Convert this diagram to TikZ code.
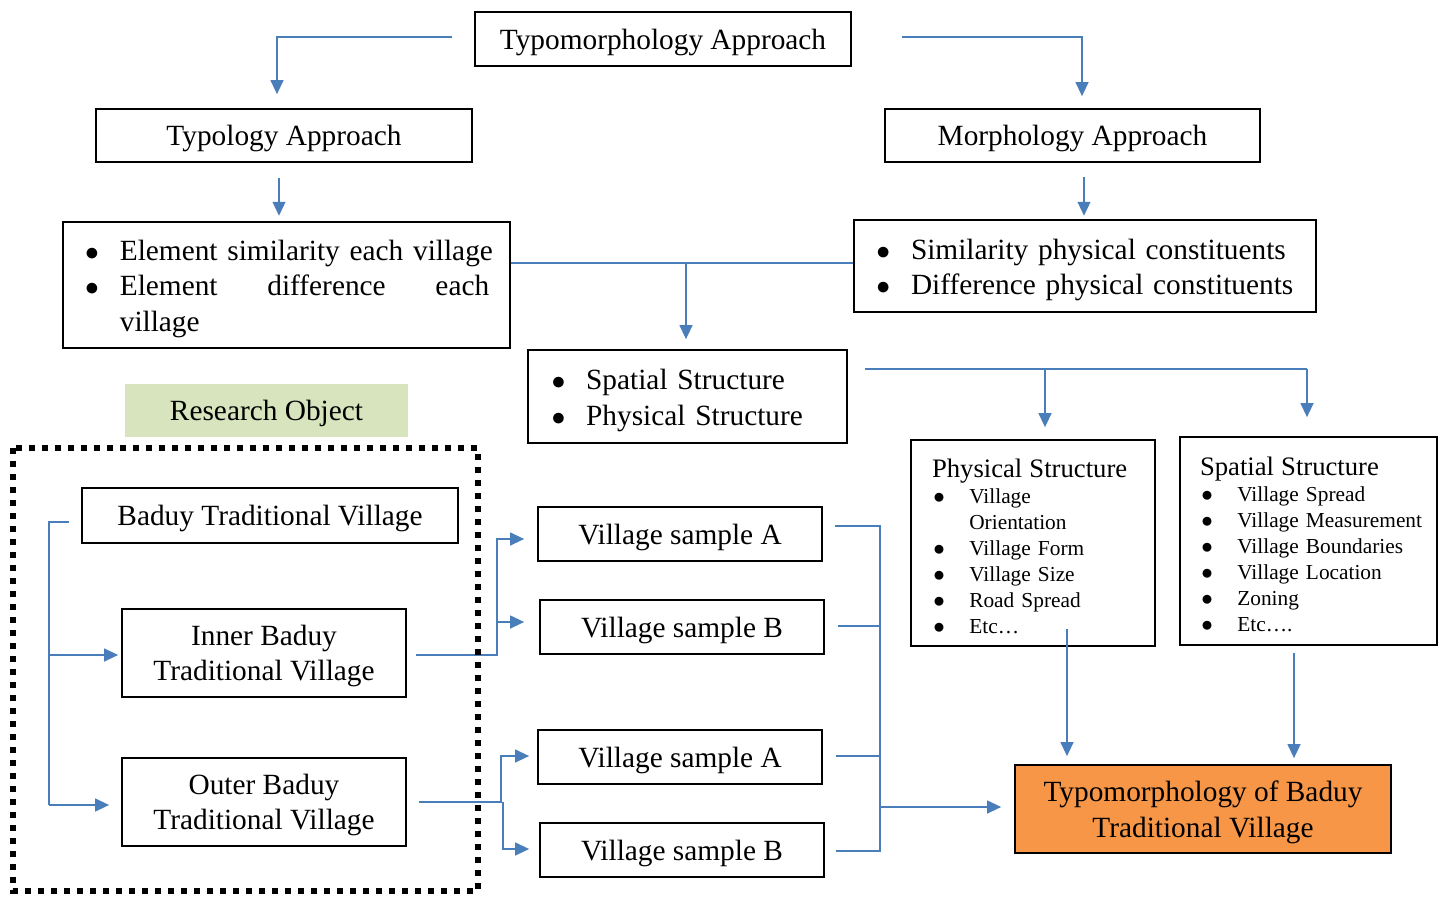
\documentclass[tikz,border=0pt]{standalone}
\usepackage{fontspec}
\setmainfont{Liberation Serif}
\usetikzlibrary{arrows.meta,calc,positioning}

\definecolor{linkblue}{HTML}{4A7EBB}
\definecolor{resorange}{HTML}{F79646}
\definecolor{objgreen}{HTML}{D7E4BD}

\newcommand{\mainsize}{\fontsize{22}{26.5}\selectfont}
\newcommand{\itemsize}{\fontsize{16}{19.5}\selectfont}
\newcommand{\bul}[1][27pt]{\makebox[#1][l]{\hspace{1pt}$\bullet$}}
\newcommand{\topstrut}[1]{\rule{0pt}{#1}}

\begin{document}
\begin{tikzpicture}[x=0.75pt,y=-0.75pt,font=\mainsize,
    boxsize/.style 2 args={minimum width={#1*0.75pt},minimum height={#2*0.75pt}}]
    \tikzstyle{box}=[draw,line width=1.2pt,inner sep=0pt,align=center,text depth=0pt]
    \tikzstyle{listbox}=[draw,line width=1.2pt,inner ysep=0pt,align=left]
    \tikzstyle{link}=[draw=linkblue,line width=1.6pt]
    \tikzstyle{arr}=[link,-{Triangle[length=10.5pt,width=9.5pt]}]
    \useasboundingbox (0,0) rectangle (1438,896);

    % approaches
    \node [box,boxsize={376}{54}] (typomorph) at (663,39) {Typomorphology Approach};
    \node [box,boxsize={376}{53}] (typology) at (284,135.5) {Typology Approach};
    \node [box,boxsize={375}{53}] (morphology) at (1072.5,135.5) {Morphology Approach};

    % what is compared
    \node [listbox,boxsize={447}{126},text width=304pt,inner xsep=15.5pt] (element) at (286.5,285) {
      \topstrut{21pt}\mbox{\bul Element similarity each village}\\
      \bul\makebox[277pt][s]{Element\hfill difference\hfill each}\\
      \hspace*{27pt}village
    };
    \node [listbox,boxsize={462}{92},text width=315pt,inner xsep=15.75pt] (similar) at (1085,266) {
      \topstrut{21pt}\mbox{\bul Similarity physical constituents}\\
      \mbox{\bul Difference physical constituents}
    };
    \node [listbox,boxsize={319}{93},text width=206pt,inner xsep=16.5pt] (structure) at (687.5,396.5) {
      \topstrut{21pt}\bul Spatial Structure\\
      \bul Physical Structure
    };

    % structure details
    \node [listbox,boxsize={244}{206},text width=151.5pt,inner xsep=15.75pt,font=\itemsize] (physical) at (1033,543) {
      \topstrut{18.5pt}{\fontsize{20}{19.5}\selectfont Physical Structure}\\
      \bul[28pt]Village\\
      \hspace*{28pt}Orientation\\
      \bul[28pt]Village Form\\
      \bul[28pt]Village Size\\
      \bul[28pt]Road Spread\\
      \bul[28pt]Etc…
    };
    \node [listbox,boxsize={257}{208},text width=162.75pt,inner xsep=15pt,font=\itemsize] (spatial) at (1308.5,541) {
      \topstrut{18.5pt}{\fontsize{20}{19.5}\selectfont Spatial Structure}\\
      \mbox{\bul[28pt]Village Spread}\\
      \mbox{\bul[28pt]Village Measurement}\\
      \mbox{\bul[28pt]Village Boundaries}\\
      \mbox{\bul[28pt]Village Location}\\
      \mbox{\bul[28pt]Zoning}\\
      \mbox{\bul[28pt]Etc….}
    };

    % research object
    \node [fill=objgreen,inner sep=0pt,text depth=0pt,boxsize={283}{53}] (object) at (266.5,410.5) {Research Object};
    \node [box,boxsize={376}{55}] (baduy) at (270,515.5) {Baduy Traditional Village};
    \node [box,boxsize={284}{88}] (inner) at (264,653) {Inner Baduy\\Traditional Village};
    \node [box,boxsize={284}{88}] (outer) at (264,802) {Outer Baduy\\Traditional Village};

    % samples
    \node [box,boxsize={284}{54}] (innerA) at (680,534) {Village sample A};
    \node [box,boxsize={284}{54}] (innerB) at (682,627) {Village sample B};
    \node [box,boxsize={284}{54}] (outerA) at (680,757) {Village sample A};
    \node [box,boxsize={284}{54}] (outerB) at (682,850) {Village sample B};

    \node [box,fill=resorange,boxsize={376}{88}] (result) at (1203,809) {Typomorphology of Baduy\\Traditional Village};

    % connectors top
    \draw [arr] ($(typomorph.west)+(-22,-2)$) -| ($(typology.north)+(-7,-14)$);
    \draw [arr] ($(typomorph.east)+(50,-2)$) -| ($(morphology.north)+(9.5,-12)$);
    \draw [arr] ($(typology.south)+(-5,15)$) -- ($(typology.south)+(-5,53)$);
    \draw [arr] ($(morphology.south)+(11.5,14)$) -- ($(morphology.south)+(11.5,53)$);
    \draw [link] ($(element.east)+(0,-22)$) coordinate (join) -- (join -| similar.west);
    \draw [arr] ($(join -| structure.north)+(-1.5,0)$) -- ($(structure.north)+(-1.5,-10)$);
    \draw [link] ($(structure.east)+(17,-27.5)$) coordinate (split) -- ($(split -| spatial.north)+(-1.5,0)$);
    \draw [arr] ($(split -| physical.north)+(12,0)$) -- ($(physical.north)+(12,-12)$);
    \draw [arr] ($(split -| spatial.north)+(-1.5,0)$) -- ($(spatial.north)+(-1.5,-19)$);

    % research object connectors
    \draw [link] ($(baduy.west)+(-12,6.5)$) -| ($(outer.west)+(-72,3)$);
    \draw [arr] ($(inner.west)+(-72,2)$) -- ($(inner.west)+(-3,2)$);
    \draw [arr] ($(outer.west)+(-72,3)$) -- ($(outer.west)+(-12,3)$);
    \draw [arr] ($(inner.east)+(9,2)$) -| ($(innerA.west)+(-40,5)$) -- ($(innerA.west)+(-13,5)$);
    \draw [arr] ($(innerB.west)+(-42,-5)$) -- ($(innerB.west)+(-15,-5)$);
    \draw [arr] ($(outer.east)+(12,0)$) -| ($(outerA.west)+(-36,-1)$) -- ($(outerA.west)+(-8,-1)$);
    \draw [arr] ($(outer.east)+(96,0)$) |- ($(outerB.west)+(-10,-1)$);

    % samples to result
    \draw [link] ($(innerA.east)+(12,-8)$) -| ($(outerB.east)+(55,1)$) -- ($(outerB.east)+(11,1)$);
    \draw [link] ($(innerB.east)+(13,-1)$) -- ($(innerB.east)+(55,-1)$);
    \draw [link] ($(outerA.east)+(13,-1)$) -- ($(outerA.east)+(57,-1)$);
    \draw [arr] ($(outerB.east)+(55,-43)$) -- ($(result.west)+(-13,-2)$);
    \draw [arr] ($(physical.south)+(34,-18)$) -- ($(result.north)+(-136,-8)$);
    \draw [arr] ($(spatial.south)+(-14.5,7)$) -- ($(result.north)+(91,-6)$);

    % research object frame
    \draw [line width=4.5pt,dash pattern=on 4.5pt off 5.25pt] (13,448) rectangle (478,891);
\end{tikzpicture}
\end{document}
